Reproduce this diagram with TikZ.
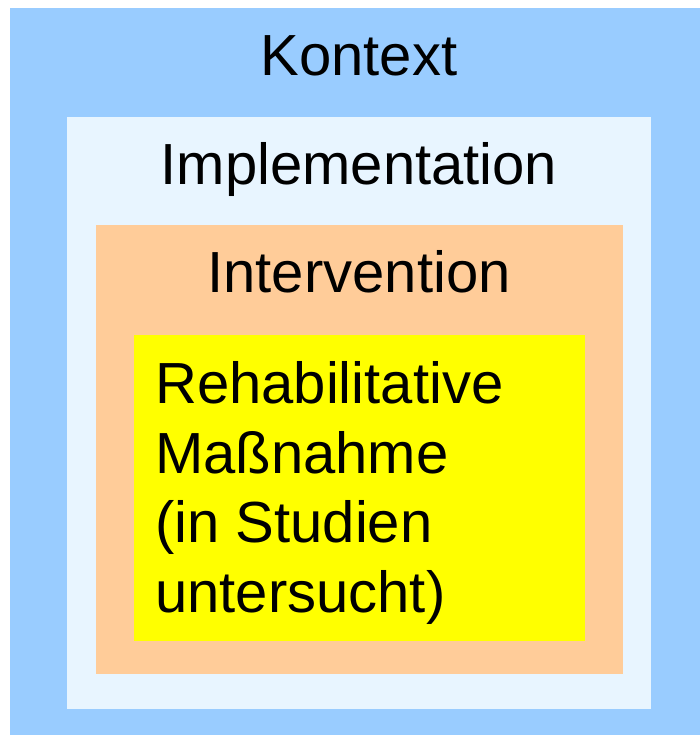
\documentclass[tikz,border=0pt]{standalone}
\usepackage{fontspec}
\setmainfont{Liberation Sans}
\definecolor{ctxblue}{HTML}{99CCFF}
\definecolor{implblue}{HTML}{E8F5FF}
\definecolor{intorange}{HTML}{FFCC99}
\definecolor{measyellow}{HTML}{FFFF00}
\tikzset{
  layerlabel/.style={anchor=base, inner sep=0pt, font=\fontsize{58}{69.5}\selectfont},
  measurelabel/.style={anchor=base west, inner sep=0pt, align=left, font=\fontsize{58}{69.5}\selectfont}
}
\begin{document}
\begin{tikzpicture}[x=1pt, y=-1pt]
  \useasboundingbox (0,0) rectangle (700,735);
  % nested layers, outermost first
  \fill[ctxblue]    (10,8)   rectangle (700,735);
  \fill[implblue]   (67,117) rectangle (651,709);
  \fill[intorange]  (96,225) rectangle (623,674);
  \fill[measyellow] (134,335) rectangle (585,641);
  % layer titles
  \node[layerlabel] (kontext) at (359,76)  {Kontext};
  \node[layerlabel] (impl)    at (359,185) {Implementation};
  \node[layerlabel] (interv)  at (359,292) {Intervention};
  % innermost box text (base anchor sits on the last line)
  \node[measurelabel] (measure) at (155,612) {Rehabilitative\\Maßnahme\\(in Studien\\untersucht)};
\end{tikzpicture}
\end{document}
